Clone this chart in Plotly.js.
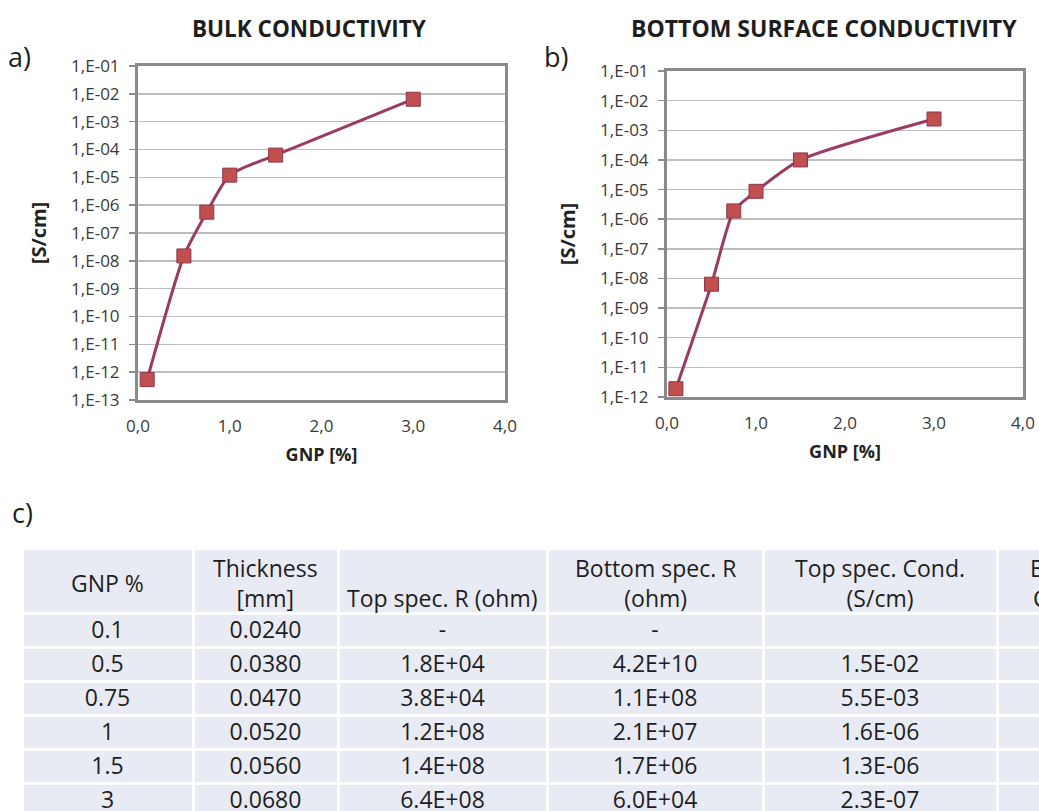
<!DOCTYPE html>
<html>
<head>
<meta charset="utf-8">
<script src="https://cdn.plot.ly/plotly-3.0.1.min.js"></script>
<style>
  html, body { margin: 0; padding: 0; overflow: hidden; background: #ffffff; }
  #chart { width: 1210px; height: 860px; }
</style>
</head>
<body>
<div id="chart"></div>
<script>
// ---- data ----
const gnp = [0.1, 0.5, 0.75, 1.0, 1.5, 3.0];
const bulkCond = [5.4e-13, 1.5e-8, 5.6e-7, 1.2e-5, 6.3e-5, 6.4e-3];
const bottomCond = [1.9e-12, 6.4e-9, 1.9e-6, 8.7e-6, 1.0e-4, 2.4e-3];

const xTickVals = [0, 1, 2, 3, 4];
const xTickText = ["0,0", "1,0", "2,0", "3,0", "4,0"];
const yTickValsA = [1e-13, 1e-12, 1e-11, 1e-10, 1e-9, 1e-8, 1e-7, 1e-6, 1e-5, 1e-4, 1e-3, 1e-2, 1e-1];
const yTickTextA = ["1,E-13", "1,E-12", "1,E-11", "1,E-10", "1,E-09", "1,E-08", "1,E-07", "1,E-06", "1,E-05", "1,E-04", "1,E-03", "1,E-02", "1,E-01"];
const yTickValsB = [1e-12, 1e-11, 1e-10, 1e-9, 1e-8, 1e-7, 1e-6, 1e-5, 1e-4, 1e-3, 1e-2, 1e-1];
const yTickTextB = ["1,E-12", "1,E-11", "1,E-10", "1,E-09", "1,E-08", "1,E-07", "1,E-06", "1,E-05", "1,E-04", "1,E-03", "1,E-02", "1,E-01"];

const tableHeader = ["GNP %", "Thickness<br>[mm]", "Top spec. R (ohm)", "Bottom spec. R<br>(ohm)", "Top spec. Cond.<br>(S/cm)", "Bottom spec.<br>Cond. (S/cm)"];
const tblGnp = ["0.1", "0.5", "0.75", "1", "1.5", "3"];
const tblThickness = ["0.0240", "0.0380", "0.0470", "0.0520", "0.0560", "0.0680"];
const tblTopR = ["-", "1.8E+04", "3.8E+04", "1.2E+08", "1.4E+08", "6.4E+08"];
const tblBottomR = ["-", "4.2E+10", "1.1E+08", "2.1E+07", "1.7E+06", "6.0E+04"];
const tblTopCond = ["", "1.5E-02", "5.5E-03", "1.6E-06", "1.3E-06", "2.3E-07"];
const tblBottomCond = ["", "", "", "", "", ""];

// ---- styles ----
const W = 1210, H = 860;
const FONT = "Open Sans, Noto Sans, sans-serif";
const lineCol = "#9b3a62";
const markerFill = "#c0504d";
const markerEdge = "#8e3450";
const frameCol = "#8a8a8a";
const gridCol = "#bdbdbd";
const txtCol = "#3a3a3a";
const cellFill = "#e9ebf4";
const tableLeft = 22, tableTop = 548, headerH = 65, rowH = 34;
const colWidths = [171, 145, 209, 216, 234, 206];
// vertical centre (px) of header text block per column
const headerTextY = [583, 582.5, 598, 582.5, 582.5, 582.5];

function seriesTrace(y, xa, ya) {
  return {
    type: "scatter", mode: "lines+markers",
    x: gnp, y: y, xaxis: xa, yaxis: ya,
    line: { color: lineCol, width: 3, shape: "spline", smoothing: 0.6 },
    marker: { symbol: "square", size: 14, color: markerFill, line: { color: markerEdge, width: 1 } },
    showlegend: false, hoverinfo: "x+y"
  };
}

const tableWidth = colWidths.reduce((a, b) => a + b, 0);
const tableTrace = {
  type: "table",
  domain: { x: [tableLeft / W, (tableLeft + tableWidth) / W], y: [0, 1 - tableTop / H] },
  columnwidth: colWidths,
  header: {
    values: tableHeader.map(() => ""),
    align: "center",
    height: headerH,
    fill: { color: cellFill },
    line: { color: "#ffffff", width: 3 },
    font: { family: FONT, size: 23, color: "#1e1e1e" }
  },
  cells: {
    values: [tblGnp, tblThickness, tblTopR, tblBottomR, tblTopCond, tblBottomCond],
    align: "center",
    height: rowH,
    fill: { color: cellFill },
    line: { color: "#ffffff", width: 3 },
    font: { family: FONT, size: 23, color: "#1e1e1e" }
  }
};

const data = [
  seriesTrace(bulkCond, "x", "y"),
  seriesTrace(bottomCond, "x2", "y2"),
  tableTrace
];

function xAxis(domain, anchor) {
  return {
    domain: domain, anchor: anchor, range: [0, 4], type: "linear",
    tickvals: xTickVals, ticktext: xTickText,
    ticks: "", showgrid: false, zeroline: false,
    showline: true, linecolor: frameCol, linewidth: 3, mirror: true,
    tickfont: { family: FONT, size: 17, color: txtCol },
    ticklabelstandoff: 9,
    title: { text: "<b>GNP [%]</b>", font: { family: FONT, size: 18, color: "#222" }, standoff: 12 }
  };
}
function yAxis(domain, anchor, range, tv, tt) {
  return {
    domain: domain, anchor: anchor, type: "log", range: range,
    tickvals: tv, ticktext: tt,
    ticks: "outside", ticklen: 6, tickwidth: 1.5, tickcolor: frameCol,
    showgrid: true, gridcolor: gridCol, gridwidth: 1.5, zeroline: false,
    showline: true, linecolor: frameCol, linewidth: 3, mirror: true,
    tickfont: { family: FONT, size: 17, color: txtCol },
    ticklabelstandoff: 6,
    title: { text: "<b>[S/cm]</b>", font: { family: FONT, size: 20, color: "#222" }, standoff: 20 }
  };
}
function topTicks(overlay, domain, anchor) {
  return {
    overlaying: overlay, side: "top", anchor: anchor, domain: domain,
    range: [0, 4], tickvals: [1, 2, 3], ticks: "inside", ticklen: 5,
    tickwidth: 1.5, tickcolor: frameCol, showticklabels: false,
    showgrid: false, zeroline: false, showline: false
  };
}

const annotations = [
  { text: "<b>BULK CONDUCTIVITY</b>", xref: "paper", yref: "paper", x: 309 / W, y: 1 - 28 / H,
    xanchor: "center", yanchor: "middle", showarrow: false, font: { family: FONT, size: 22.5, color: "#1e1e1e" } },
  { text: "<b>BOTTOM SURFACE CONDUCTIVITY</b>", xref: "paper", yref: "paper", x: 824 / W, y: 1 - 28 / H,
    xanchor: "center", yanchor: "middle", showarrow: false, font: { family: FONT, size: 23, color: "#1e1e1e" } },
  { text: "a)", xref: "paper", yref: "paper", x: 6 / W, y: 1 - 57 / H, xanchor: "left", yanchor: "middle",
    showarrow: false, font: { family: FONT, size: 27, color: "#1e1e1e" } },
  { text: "b)", xref: "paper", yref: "paper", x: 542 / W, y: 1 - 57 / H, xanchor: "left", yanchor: "middle",
    showarrow: false, font: { family: FONT, size: 27, color: "#1e1e1e" } },
  { text: "c)", xref: "paper", yref: "paper", x: 10 / W, y: 1 - 512 / H, xanchor: "left", yanchor: "middle",
    showarrow: false, font: { family: FONT, size: 27, color: "#1e1e1e" } }
];
// header labels of the table, centred in each header cell
let acc = tableLeft;
tableHeader.forEach((h, i) => {
  const cx = acc + colWidths[i] / 2;
  acc += colWidths[i];
  annotations.push({
    text: h, xref: "paper", yref: "paper", x: cx / W, y: 1 - headerTextY[i] / H,
    xanchor: "center", yanchor: "middle", align: "center", showarrow: false,
    font: { family: FONT, size: 23, color: "#1e1e1e" }
  });
});

const layout = {
  width: W, height: H,
  margin: { l: 0, r: 0, t: 0, b: 0 },
  paper_bgcolor: "#ffffff", plot_bgcolor: "#ffffff",
  font: { family: FONT, color: txtCol },
  showlegend: false,
  xaxis: xAxis([138 / W, 505 / W], "y"),
  yaxis: yAxis([1 - 400 / H, 1 - 66 / H], "x", [-13, -1], yTickValsA, yTickTextA),
  xaxis2: xAxis([667 / W, 1023 / W], "y2"),
  yaxis2: yAxis([1 - 397 / H, 1 - 71 / H], "x2", [-12, -1], yTickValsB, yTickTextB),
  xaxis3: topTicks("x", [138 / W, 505 / W], "y"),
  xaxis4: topTicks("x2", [667 / W, 1023 / W], "y2"),
  annotations: annotations
};

Plotly.newPlot("chart", data, layout, { displayModeBar: false, staticPlot: true, responsive: false });
</script>
</body>
</html>
